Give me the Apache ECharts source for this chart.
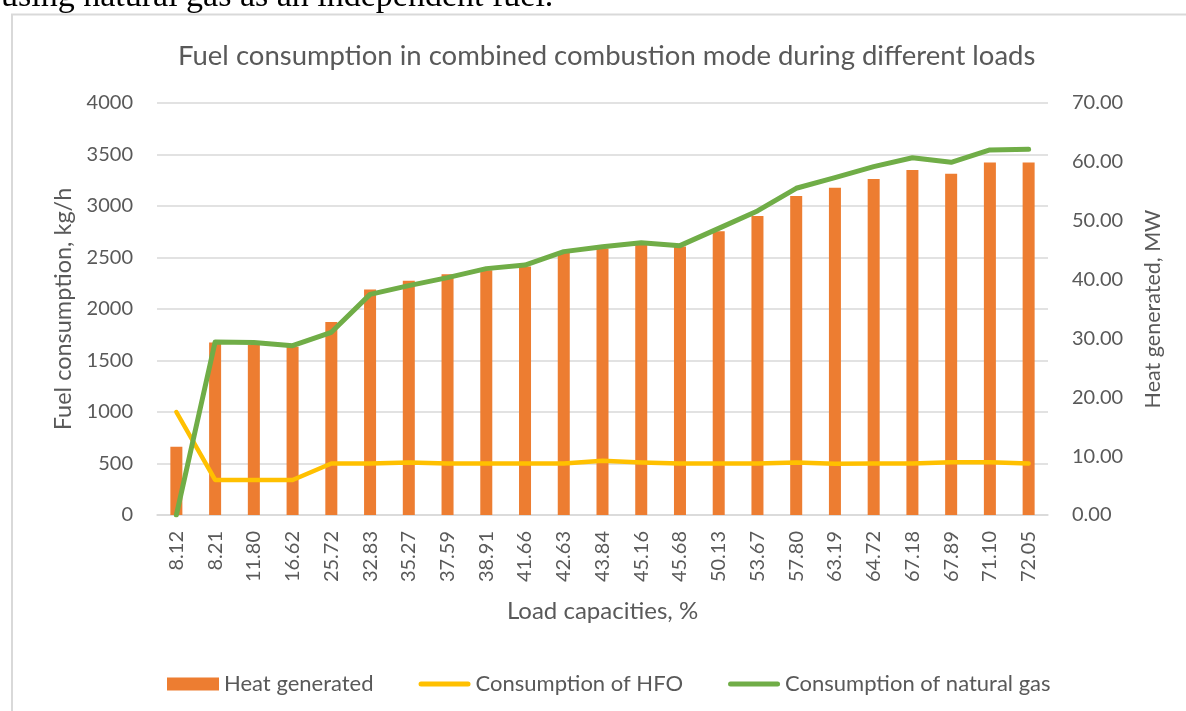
<!DOCTYPE html>
<html>
<head>
<meta charset="utf-8">
<title>Fuel consumption in combined combustion mode</title>
<script src="https://cdn.jsdelivr.net/npm/echarts@6/dist/echarts.min.js"></script>
<style>
  html, body { margin: 0; padding: 0; background: #ffffff; }
  #chart { width: 1186px; height: 711px; }
</style>
</head>
<body>
<div id="chart"></div>
<script>
// Load capacities, %
const loadCapacities = ['8.12', '8.21', '11.80', '16.62', '25.72', '32.83', '35.27', '37.59',
  '38.91', '41.66', '42.63', '43.84', '45.16', '45.68', '50.13', '53.67', '57.80', '63.19',
  '64.72', '67.18', '67.89', '71.10', '72.05'];

// Heat generated, MW (right axis)
const heatGenerated = [11.6, 29.3, 28.9, 28.6, 32.8, 38.3, 39.8, 40.9, 41.6, 42.2, 44.5, 45.3,
  45.9, 45.6, 48.2, 50.8, 54.2, 55.6, 57.1, 58.6, 58.0, 59.9, 59.9];

// Consumption of HFO, kg/h (left axis)
const hfoConsumption = [1000, 340, 340, 340, 500, 500, 510, 500, 500, 500, 500, 527,
  510, 500, 500, 500, 510, 497, 500, 500, 512, 512, 500];

// Consumption of natural gas, kg/h (left axis)
const gasConsumption = [0, 1680, 1675, 1644, 1774, 2142, 2227, 2305, 2392, 2427, 2557, 2605,
  2644, 2615, 2783, 2952, 3172, 3275, 3382, 3469, 3424, 3544, 3550];

const FONT = 'Lato';
const TEXT = '#595959';
const GRID = '#D9D9D9';
const ORANGE = '#ED7D31';
const YELLOW = '#FFC000';
const GREEN = '#70AD47';

// thin rounded bar used as the legend key for the line series
const LINE_KEY = 'path://M2.5,0 H49.5 A2.5,2.5 0 0 1 49.5,5 H2.5 A2.5,2.5 0 0 1 2.5,0 Z';

const chart = echarts.init(document.getElementById('chart'), null, { renderer: 'canvas' });

chart.setOption({
  backgroundColor: '#ffffff',
  animation: false,
  textStyle: { fontFamily: FONT, color: TEXT },
  graphic: [
    {
      type: 'text',
      left: 1,
      top: -20,
      style: {
        text: 'using natural gas as an independent fuel.',
        font: '34px "Liberation Serif"',
        fill: '#000000'
      },
      z: 10
    },
    {
      type: 'rect',
      shape: { x: 12, y: 14.5, width: 1190, height: 720 },
      style: { fill: 'none', stroke: GRID, lineWidth: 2 },
      silent: true,
      z: 0
    }
  ],
  title: {
    text: 'Fuel consumption in combined combustion mode during different loads',
    left: 173,
    top: 37,
    textStyle: { fontFamily: FONT, fontSize: 27.5, fontWeight: 'normal', color: TEXT }
  },
  legend: {
    left: 162,
    top: 668,
    itemWidth: 52,
    itemHeight: 13,
    itemGap: 45,
    textStyle: { fontFamily: FONT, fontSize: 22, color: TEXT, lineHeight: 22 },
    data: [
      { name: 'Heat generated', icon: 'rect' },
      { name: 'Consumption of HFO', icon: LINE_KEY, itemStyle: { color: YELLOW } },
      { name: 'Consumption of natural gas', icon: LINE_KEY, itemStyle: { color: GREEN } }
    ]
  },
  grid: { left: 157, right: 138, top: 103, bottom: 196 },
  xAxis: {
    type: 'category',
    data: loadCapacities,
    name: 'Load capacities, %',
    nameLocation: 'middle',
    nameGap: 84,
    nameTextStyle: { fontFamily: FONT, fontSize: 24, color: TEXT },
    axisLine: { lineStyle: { color: GRID, width: 1.5 } },
    axisTick: { show: false },
    axisLabel: { rotate: 90, margin: 16, fontFamily: FONT, fontSize: 20, color: TEXT, interval: 0 }
  },
  yAxis: [
    {
      type: 'value',
      min: 0,
      max: 4000,
      interval: 500,
      name: 'Fuel consumption, kg/h',
      nameLocation: 'middle',
      nameRotate: 90,
      nameGap: 73,
      nameTextStyle: { fontFamily: FONT, fontSize: 23.5, color: TEXT },
      axisLine: { show: false },
      axisTick: { show: false },
      axisLabel: {
        margin: 24, fontFamily: FONT, fontSize: 20, color: TEXT,
        formatter: v => String(v)
      },
      splitLine: { lineStyle: { color: GRID, width: 1.5 } }
    },
    {
      type: 'value',
      min: 0,
      max: 70,
      interval: 10,
      position: 'right',
      name: 'Heat generated, MW',
      nameLocation: 'middle',
      nameRotate: 90,
      nameGap: 94,
      nameTextStyle: { fontFamily: FONT, fontSize: 21.5, color: TEXT },
      axisLine: { show: false },
      axisTick: { show: false },
      axisLabel: {
        margin: 24, fontFamily: FONT, fontSize: 20, color: TEXT,
        formatter: v => v.toFixed(2)
      },
      splitLine: { show: false }
    }
  ],
  series: [
    {
      name: 'Heat generated',
      type: 'bar',
      yAxisIndex: 1,
      data: heatGenerated,
      barWidth: '31%',
      itemStyle: { color: ORANGE }
    },
    {
      name: 'Consumption of HFO',
      type: 'line',
      yAxisIndex: 0,
      data: hfoConsumption,
      symbol: 'none',
      lineStyle: { color: YELLOW, width: 4.5, cap: 'round', join: 'round' },
      itemStyle: { color: YELLOW }
    },
    {
      name: 'Consumption of natural gas',
      type: 'line',
      yAxisIndex: 0,
      data: gasConsumption,
      symbol: 'none',
      lineStyle: { color: GREEN, width: 5, cap: 'round', join: 'round' },
      itemStyle: { color: GREEN }
    }
  ]
});
</script>
</body>
</html>
